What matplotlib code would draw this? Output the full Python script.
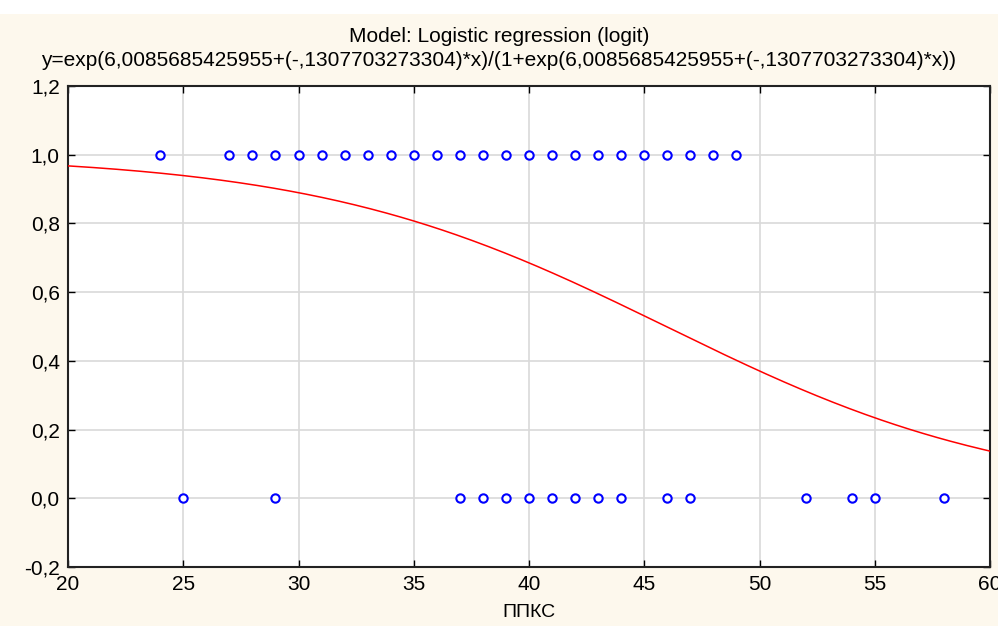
import numpy as np
import matplotlib
matplotlib.use("Agg")
import matplotlib.pyplot as plt
import matplotlib.ticker as ticker
from matplotlib.patches import Rectangle

# model coefficients (from the chart title)
B0 = 6.0085685425955
B1 = -0.1307703273304

# observed points
x_ones = [24, 27, 28, 29, 30, 31, 32, 33, 34, 35, 36, 37, 38, 39, 40, 41, 42,
          43, 44, 45, 46, 47, 48, 49]
x_zeros = [25, 29, 37, 38, 39, 40, 41, 42, 43, 44, 46, 47, 52, 54, 55, 58]

x_ticks = [20, 25, 30, 35, 40, 45, 50, 55, 60]
y_ticks = [-0.2, 0.0, 0.2, 0.4, 0.6, 0.8, 1.0, 1.2]

plt.rcParams['font.family'] = ['Liberation Sans', 'DejaVu Sans']

fig = plt.figure(figsize=(9.98, 6.26), dpi=100)
fig.patch.set_facecolor('#fdf8ed')
# white strip on top
fig.patches.append(Rectangle((0, 1 - 14 / 626), 1, 14 / 626, transform=fig.transFigure,
                             facecolor='white', edgecolor='none', zorder=0))

ax = fig.add_axes([68 / 998, 1 - 567 / 626, (990 - 68) / 998, (567 - 86) / 626])
ax.set_facecolor('white')

xs = np.linspace(20, 60, 400)
z = B0 + B1 * xs
ax.plot(xs, np.exp(z) / (1 + np.exp(z)), color='red', linewidth=1.1, zorder=3)

ax.plot(x_ones, [1.0] * len(x_ones), linestyle='none', marker='o', markersize=6,
        markerfacecolor='white', markeredgecolor='blue', markeredgewidth=1.5, zorder=4)
ax.plot(x_zeros, [0.0] * len(x_zeros), linestyle='none', marker='o', markersize=6,
        markerfacecolor='white', markeredgecolor='blue', markeredgewidth=1.5, zorder=4)

ax.set_xlim(20, 60)
ax.set_ylim(-0.2, 1.2)
ax.set_xticks(x_ticks)
ax.set_yticks(y_ticks)
ax.yaxis.set_major_formatter(ticker.FuncFormatter(lambda v, p: f'{v:.1f}'.replace('.', ',')))
ax.grid(True, color='#d9d9d9', linewidth=1.2)
ax.set_axisbelow(True)
ax.tick_params(direction='in', length=5, width=1, labelsize=15, colors='black',
               top=True, right=True, pad=6)
for s in ax.spines.values():
    s.set_linewidth(1.5)
    s.set_color('#222222')

ax.set_xlabel('ППКС', fontsize=14, labelpad=7)

fig.text(0.5, 1 - 37 / 626, 'Model: Logistic regression (logit)', ha='center', va='center',
         fontsize=15)
fig.text(0.5, 1 - 61 / 626,
         'y=exp(6,0085685425955+(-,1307703273304)*x)/(1+exp(6,0085685425955+(-,1307703273304)*x))',
         ha='center', va='center', fontsize=15)

fig.savefig('out.png', dpi=100, facecolor=fig.get_facecolor())
